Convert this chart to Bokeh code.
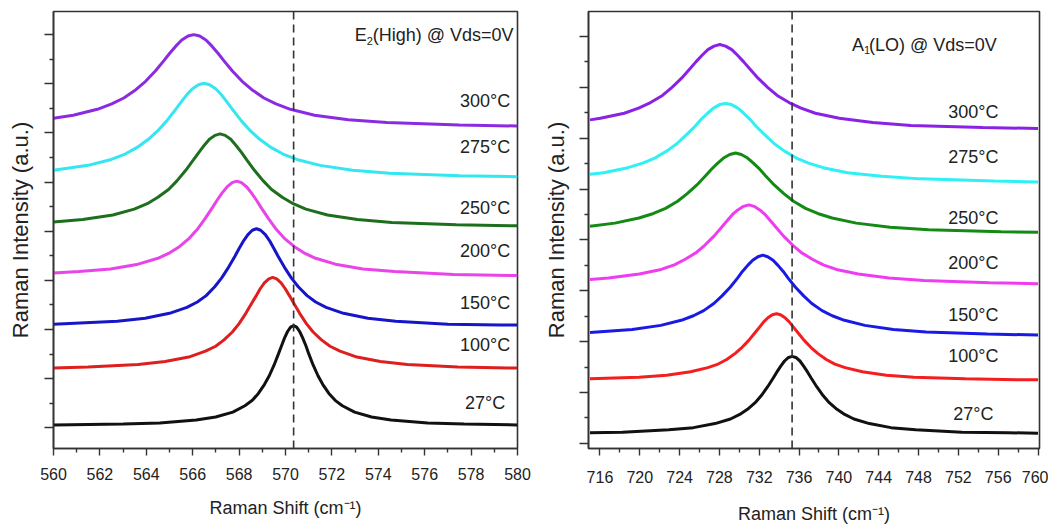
from bokeh.plotting import figure
from bokeh.models import Range1d, FixedTicker, Span, Label
from bokeh.layouts import row
from bokeh.embed import file_html
from bokeh.resources import INLINE
from bokeh.core.properties import value

# ---------------- data: E2(High) panel ----------------
e2_labels = ["27°C", "100°C", "150°C", "200°C", "250°C", "275°C", "300°C"]

e2_27_x = [560, 563.00, 564.58, 566.15, 566.99, 567.73, 568.25, 568.57, 568.83, 569.09, 569.30,
           569.51, 569.70, 569.83, 569.96, 570.09, 570.22, 570.35, 570.48, 570.61, 570.74,
           570.88, 571.00, 571.19, 571.40, 571.61, 571.87, 572.14, 572.45, 572.98, 573.71,
           574.55, 576.13, 577.70, 580]
e2_27_y = [0.06, 0.08, 0.10, 0.16, 0.22, 0.32, 0.45, 0.56, 0.70, 0.88, 1.06,
           1.28, 1.51, 1.67, 1.83, 1.96, 2.05, 2.08, 2.05, 1.96, 1.83,
           1.67, 1.51, 1.28, 1.06, 0.88, 0.70, 0.56, 0.45, 0.32, 0.22,
           0.16, 0.10, 0.08, 0.06]

e2_100_x = [560, 561.48, 563.65, 564.81, 565.83, 566.55, 566.99, 567.35, 567.71, 568.00, 568.29,
            568.55, 568.73, 568.91, 569.09, 569.28, 569.45, 569.62, 569.81, 569.99, 570.18,
            570.35, 570.61, 570.90, 571.19, 571.55, 571.92, 572.35, 573.08, 574.09, 575.25,
            577.43, 579.60, 580]
e2_100_y = [1.22, 1.24, 1.29, 1.35, 1.44, 1.56, 1.66, 1.79, 1.95, 2.12, 2.33,
            2.54, 2.68, 2.83, 2.95, 3.03, 3.06, 3.03, 2.95, 2.83, 2.68,
            2.54, 2.33, 2.12, 1.95, 1.79, 1.66, 1.56, 1.44, 1.35, 1.29,
            1.24, 1.22, 1.22]

e2_150_x = [560, 562.75, 563.95, 565.00, 565.75, 566.20, 566.58, 566.95, 567.25, 567.55, 567.82,
            568.00, 568.20, 568.38, 568.57, 568.75, 568.93, 569.13, 569.31, 569.50, 569.68,
            569.95, 570.25, 570.55, 570.93, 571.30, 571.75, 572.50, 573.55, 574.75, 577.00,
            579.25, 580]
e2_150_y = [2.11, 2.17, 2.23, 2.33, 2.45, 2.56, 2.69, 2.87, 3.05, 3.27, 3.49,
            3.65, 3.81, 3.93, 4.02, 4.05, 4.02, 3.93, 3.81, 3.65, 3.49,
            3.27, 3.05, 2.87, 2.69, 2.56, 2.45, 2.33, 2.23, 2.17, 2.11,
            2.09, 2.09]

e2_200_x = [560, 561.10, 562.46, 563.65, 564.50, 565.01, 565.44, 565.86, 566.20, 566.54, 566.85,
            567.05, 567.27, 567.48, 567.70, 567.90, 568.10, 568.33, 568.53, 568.75, 568.95,
            569.26, 569.60, 569.94, 570.37, 570.79, 571.30, 572.15, 573.34, 574.70, 577.25,
            579.80, 580]
e2_200_y = [3.15, 3.18, 3.23, 3.33, 3.45, 3.56, 3.69, 3.86, 4.04, 4.26, 4.48,
            4.63, 4.78, 4.90, 4.99, 5.02, 4.99, 4.90, 4.78, 4.63, 4.48,
            4.26, 4.04, 3.86, 3.69, 3.56, 3.45, 3.33, 3.23, 3.18, 3.12,
            3.10, 3.10]

e2_250_x = [560, 561.26, 562.56, 563.48, 564.04, 564.50, 564.96, 565.33, 565.70, 566.03, 566.26,
            566.50, 566.72, 566.96, 567.18, 567.40, 567.64, 567.86, 568.11, 568.33, 568.66,
            569.03, 569.40, 569.86, 570.33, 570.88, 571.81, 573.10, 574.58, 577.36, 580]
e2_250_y = [4.19, 4.24, 4.33, 4.45, 4.56, 4.69, 4.85, 5.03, 5.24, 5.45, 5.60,
            5.75, 5.87, 5.95, 5.98, 5.95, 5.87, 5.75, 5.60, 5.45, 5.24,
            5.03, 4.85, 4.69, 4.56, 4.45, 4.33, 4.24, 4.18, 4.13, 4.11]

e2_275_x = [560, 561.49, 562.49, 563.09, 563.59, 564.09, 564.49, 564.89, 565.25, 565.49, 565.75,
            565.99, 566.25, 566.49, 566.73, 566.99, 567.23, 567.49, 567.73, 568.09, 568.49,
            568.89, 569.39, 569.89, 570.49, 571.49, 572.89, 574.49, 577.49, 580]
e2_275_y = [5.24, 5.34, 5.46, 5.57, 5.70, 5.87, 6.04, 6.25, 6.47, 6.62, 6.78,
            6.90, 6.98, 7.01, 6.98, 6.90, 6.78, 6.62, 6.47, 6.25, 6.04,
            5.87, 5.70, 5.57, 5.46, 5.34, 5.24, 5.18, 5.13, 5.11]

e2_300_x = [560, 560.85, 561.89, 562.51, 563.03, 563.55, 563.97, 564.39, 564.76, 565.01, 565.28,
            565.53, 565.80, 566.05, 566.30, 566.57, 566.82, 567.09, 567.34, 567.71, 568.13,
            568.55, 569.07, 569.59, 570.21, 571.25, 572.71, 574.37, 577.49, 580]
e2_300_y = [6.30, 6.36, 6.48, 6.59, 6.71, 6.88, 7.05, 7.26, 7.47, 7.62, 7.77,
            7.89, 7.97, 8.00, 7.97, 7.89, 7.77, 7.62, 7.47, 7.26, 7.05,
            6.88, 6.71, 6.59, 6.48, 6.36, 6.27, 6.21, 6.16, 6.14]

e2_ref_shift = 570.35
e2_label_x = [578.6] * 7
e2_label_y = [0.51, 1.68, 2.53, 3.59, 4.48, 5.71, 6.64]
e2_xticks = [560, 562, 564, 566, 568, 570, 572, 574, 576, 578, 580]
e2_xminor = [561, 563, 565, 567, 569, 571, 573, 575, 577, 579]

# ---------------- data: A1(LO) panel ----------------
a1_labels = ["27°C", "100°C", "150°C", "200°C", "250°C", "275°C", "300°C"]

a1_27_x = [715, 718.26, 722.91, 725.39, 727.56, 729.11, 730.04, 730.82, 731.59, 732.21, 732.83,
           733.39, 733.76, 734.16, 734.54, 734.94, 735.31, 735.68, 736.09, 736.46, 736.86,
           737.23, 737.79, 738.41, 739.03, 739.81, 740.58, 741.51, 743.06, 745.23, 747.71,
           752.36, 757.01, 760]
a1_27_y = [0.21, 0.22, 0.27, 0.31, 0.39, 0.48, 0.57, 0.67, 0.80, 0.94, 1.11,
           1.28, 1.40, 1.52, 1.62, 1.69, 1.71, 1.69, 1.62, 1.52, 1.40,
           1.28, 1.11, 0.94, 0.80, 0.67, 0.57, 0.48, 0.39, 0.31, 0.27,
           0.22, 0.21, 0.20]

a1_100_x = [715, 719.93, 722.69, 725.11, 726.83, 727.87, 728.73, 729.59, 730.28, 730.97, 731.59,
            732.01, 732.45, 732.87, 733.32, 733.73, 734.14, 734.59, 735.01, 735.46, 735.87,
            736.49, 737.18, 737.87, 738.73, 739.60, 740.63, 742.36, 744.77, 747.53, 752.71,
            757.88, 760]
a1_100_y = [1.27, 1.30, 1.34, 1.41, 1.49, 1.56, 1.65, 1.77, 1.89, 2.03, 2.18,
            2.28, 2.39, 2.47, 2.53, 2.55, 2.53, 2.47, 2.39, 2.28, 2.18,
            2.03, 1.89, 1.77, 1.65, 1.56, 1.49, 1.41, 1.34, 1.30, 1.27,
            1.25, 1.25]

a1_150_x = [715, 719.24, 722.11, 724.16, 725.39, 726.42, 727.44, 728.26, 729.08, 729.82, 730.31,
            730.84, 731.34, 731.87, 732.36, 732.85, 733.39, 733.88, 734.41, 734.90, 735.64,
            736.46, 737.28, 738.31, 739.33, 740.56, 742.61, 745.48, 748.76, 754.91, 760]
a1_150_y = [2.18, 2.24, 2.32, 2.42, 2.51, 2.61, 2.75, 2.90, 3.07, 3.25, 3.38,
            3.50, 3.60, 3.67, 3.70, 3.67, 3.60, 3.50, 3.38, 3.25, 3.07,
            2.90, 2.75, 2.61, 2.51, 2.42, 2.32, 2.24, 2.19, 2.15, 2.13]

a1_200_x = [715, 716.87, 719.95, 722.15, 723.47, 724.57, 725.67, 726.55, 727.43, 728.22, 728.75,
            729.32, 729.85, 730.42, 730.95, 731.48, 732.05, 732.58, 733.15, 733.68, 734.47,
            735.35, 736.23, 737.33, 738.43, 739.75, 741.95, 745.03, 748.55, 755.15, 760]
a1_200_y = [3.22, 3.25, 3.33, 3.42, 3.51, 3.62, 3.75, 3.90, 4.07, 4.25, 4.37,
            4.50, 4.59, 4.66, 4.69, 4.66, 4.59, 4.50, 4.37, 4.25, 4.07,
            3.90, 3.75, 3.62, 3.51, 3.42, 3.33, 3.25, 3.20, 3.16, 3.14]

a1_250_x = [715, 717.50, 719.92, 721.38, 722.59, 723.80, 724.77, 725.74, 726.61, 727.20, 727.83,
            728.41, 729.04, 729.62, 730.20, 730.83, 731.41, 732.05, 732.63, 733.50, 734.47,
            735.44, 736.65, 737.87, 739.32, 741.75, 745.14, 749.02, 756.30, 760]
a1_250_y = [4.27, 4.33, 4.43, 4.52, 4.62, 4.76, 4.91, 5.08, 5.26, 5.39, 5.51,
            5.61, 5.68, 5.71, 5.68, 5.61, 5.51, 5.39, 5.26, 5.08, 4.91,
            4.76, 4.62, 4.52, 4.43, 4.33, 4.25, 4.20, 4.16, 4.15]

a1_275_x = [715, 716.37, 718.82, 720.29, 721.52, 722.74, 723.72, 724.70, 725.58, 726.17, 726.81,
            727.40, 728.03, 728.62, 729.21, 729.85, 730.43, 731.07, 731.66, 732.54, 733.52,
            734.50, 735.73, 736.95, 738.42, 740.87, 744.30, 748.22, 755.57, 760]
a1_275_y = [5.29, 5.32, 5.42, 5.51, 5.61, 5.75, 5.89, 6.07, 6.24, 6.37, 6.49,
            6.59, 6.66, 6.68, 6.66, 6.59, 6.49, 6.37, 6.24, 6.07, 5.89,
            5.75, 5.61, 5.51, 5.42, 5.32, 5.25, 5.20, 5.16, 5.14]

a1_300_x = [715, 716.04, 718.44, 719.88, 721.08, 722.28, 723.24, 724.20, 725.06, 725.64, 726.26,
            726.84, 727.46, 728.04, 728.62, 729.24, 729.82, 730.44, 731.02, 731.88, 732.84,
            733.80, 735.00, 736.20, 737.64, 740.04, 743.40, 747.24, 754.44, 760]
a1_300_y = [6.36, 6.39, 6.49, 6.59, 6.70, 6.84, 7.00, 7.18, 7.37, 7.50, 7.63,
            7.74, 7.81, 7.84, 7.81, 7.74, 7.63, 7.50, 7.37, 7.18, 7.00,
            6.84, 6.70, 6.59, 6.49, 6.39, 6.31, 6.25, 6.21, 6.19]

a1_ref_shift = 735.3
a1_label_x = [753.5] * 7
a1_label_y = [0.58, 1.71, 2.53, 3.55, 4.43, 5.63, 6.51]
a1_xticks = [716, 720, 724, 728, 732, 736, 740, 744, 748, 752, 756, 760]
a1_xminor = [718, 722, 726, 730, 734, 738, 742, 746, 750, 754, 758]

y_major = [0, 1, 2, 3, 4, 5, 6, 7, 8]
y_minor = [0.5, 1.5, 2.5, 3.5, 4.5, 5.5, 6.5, 7.5]

x_title = "Raman Shift (cm⁻¹)"
y_title = "Raman Intensity (a.u.)"

# ---------------- styles ----------------
FONT = "Liberation Sans"
INK = "#222222"
FRAME = "#333333"
e2_colors = ["#111111", "#DD1F1F", "#1616C8", "#E844E8", "#1D6E1D", "#33E6F0", "#8A2BE2"]
a1_colors = ["#111111", "#F51D1D", "#1A1AE6", "#F03CF0", "#138A13", "#2EF0F5", "#8A22E6"]


def base_fig(width, height, xr, yr, mbl, mbr, mbt, mbb, xticks, xminor,
             tick_standoff, xlab_standoff, ylab_standoff):
    p = figure(width=width, height=height, x_range=Range1d(*xr), y_range=Range1d(*yr),
               output_backend="svg", toolbar_location=None,
               min_border_left=mbl, min_border_right=mbr,
               min_border_top=mbt, min_border_bottom=mbb)
    p.xgrid.visible = False
    p.ygrid.visible = False
    p.background_fill_color = "white"
    p.border_fill_color = "white"
    p.outline_line_color = FRAME
    p.outline_line_width = 1.6
    p.xaxis.ticker = FixedTicker(ticks=xticks, minor_ticks=xminor)
    p.yaxis.ticker = FixedTicker(ticks=y_major, minor_ticks=y_minor)
    for ax in (p.xaxis[0], p.yaxis[0]):
        ax.axis_line_color = FRAME
        ax.axis_line_width = 1.6
        ax.major_tick_in = 0
        ax.minor_tick_in = 0
        ax.major_tick_line_color = FRAME
        ax.minor_tick_line_color = FRAME
        ax.major_tick_line_width = 1.4
        ax.minor_tick_line_width = 1.4
        ax.axis_label_text_font = FONT
        ax.axis_label_text_font_style = "normal"
        ax.axis_label_text_color = INK
    p.xaxis.major_tick_out = 7
    p.xaxis.minor_tick_out = 4
    p.yaxis.major_tick_out = 9
    p.yaxis.minor_tick_out = 4
    # no tick labels on the intensity axis
    p.yaxis.major_label_text_font_size = "1px"
    p.yaxis.major_label_text_color = None
    p.yaxis.major_label_standoff = 0
    p.xaxis.major_label_text_font = FONT
    p.xaxis.major_label_text_font_size = "16px"
    p.xaxis.major_label_text_color = INK
    p.xaxis.major_label_standoff = tick_standoff
    p.xaxis.axis_label = x_title
    p.xaxis.axis_label_text_font_size = "18px"
    p.xaxis.axis_label_standoff = xlab_standoff
    p.yaxis.axis_label = y_title
    p.yaxis.axis_label_text_font_size = "22px"
    p.yaxis.axis_label_standoff = ylab_standoff
    return p


def add_text(p, x, y, text, size, align="left", x_offset=0):
    p.add_layout(Label(x=x, y=y, text=text, text_font=FONT, text_font_size=size,
                       text_color=INK, text_align=align, text_baseline="alphabetic",
                       x_offset=x_offset))


# ---------------- left panel ----------------
p1 = base_fig(540, 526, (560, 580), (-0.42, 8.47), 53, 23, 6, 78,
              e2_xticks, e2_xminor, 12, 15, 12)
e2_xs = [e2_27_x, e2_100_x, e2_150_x, e2_200_x, e2_250_x, e2_275_x, e2_300_x]
e2_ys = [e2_27_y, e2_100_y, e2_150_y, e2_200_y, e2_250_y, e2_275_y, e2_300_y]
for xs, ys, c in zip(e2_xs, e2_ys, e2_colors):
    p1.line(xs, ys, line_color=c, line_width=3)
p1.add_layout(Span(location=e2_ref_shift, dimension="height", line_color=FRAME,
                   line_dash="8 5", line_width=1.6))
p1.text(x=e2_label_x, y=e2_label_y, text=e2_labels, text_font=value(FONT),
        text_font_size=value("18px"), text_align="center", text_baseline="middle",
        text_color=INK)
add_text(p1, 573.50, 8.0, "E", "18px", align="right")
add_text(p1, 573.50, 7.88, "2", "11px")
add_text(p1, 573.50, 8.0, "(High) @ Vds=0V", "18px", x_offset=6)

# ---------------- right panel ----------------
p2 = base_fig(508, 526, (714.85, 760.15), (-0.10, 8.49), 48, 9, 11, 73,
              a1_xticks, a1_xminor, 15, 18, 11)
a1_xs = [a1_27_x, a1_100_x, a1_150_x, a1_200_x, a1_250_x, a1_275_x, a1_300_x]
a1_ys = [a1_27_y, a1_100_y, a1_150_y, a1_200_y, a1_250_y, a1_275_y, a1_300_y]
for xs, ys, c in zip(a1_xs, a1_ys, a1_colors):
    p2.line(xs, ys, line_color=c, line_width=3)
p2.add_layout(Span(location=a1_ref_shift, dimension="height", line_color=FRAME,
                   line_dash="8 5", line_width=1.6))
p2.text(x=a1_label_x, y=a1_label_y, text=a1_labels, text_font=value(FONT),
        text_font_size=value("18px"), text_align="center", text_baseline="middle",
        text_color=INK)
add_text(p2, 742.52, 7.83, "A", "18px", align="right")
add_text(p2, 742.52, 7.73, "1", "11px")
add_text(p2, 742.52, 7.83, "(LO) @ Vds=0V", "18px", x_offset=5)

layout = row(p1, p2)
open("out.html", "w").write(file_html(layout, INLINE))
